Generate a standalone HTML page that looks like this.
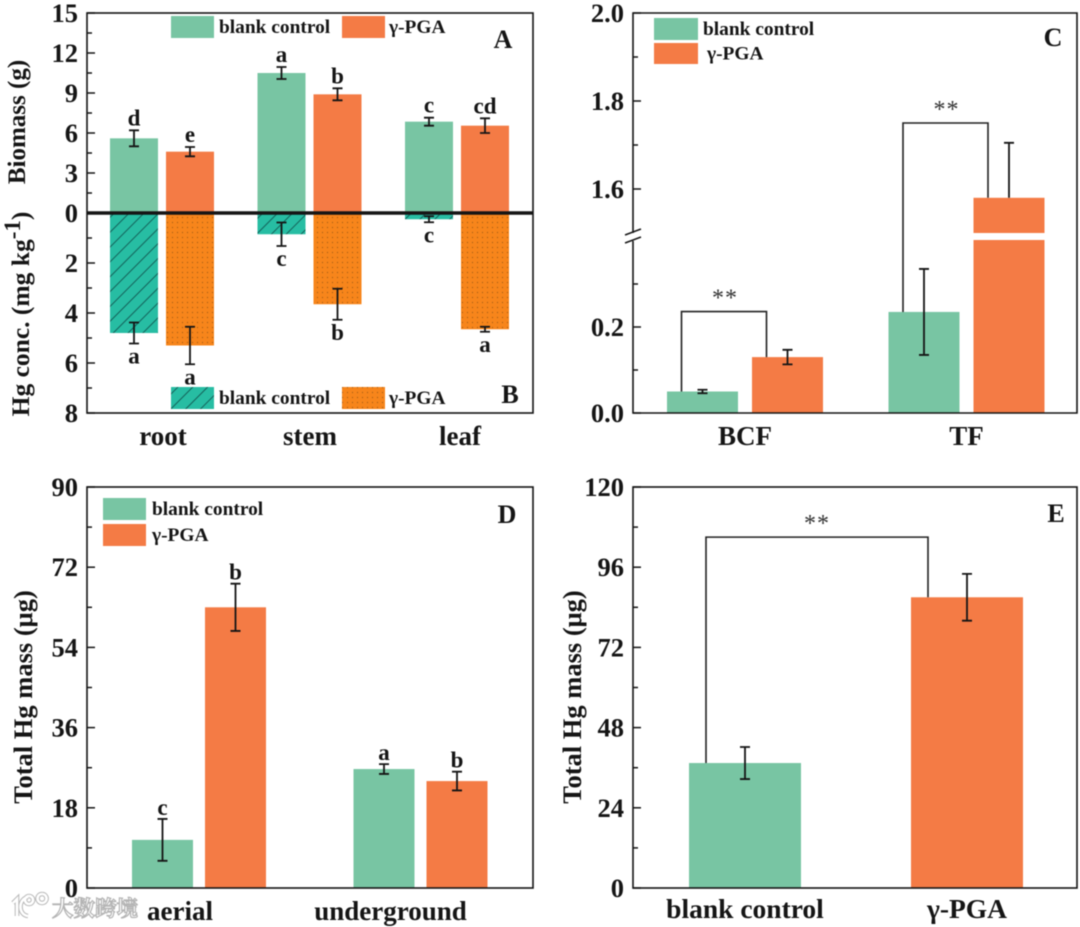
<!DOCTYPE html>
<html lang="en">
<head>
<meta charset="utf-8">
<title>Biomass and Hg charts</title>
<style>
html,body{margin:0;padding:0;background:#fff;width:1080px;height:927px;overflow:hidden}
svg{display:block;filter:blur(0.45px)}
text{font-family:"Liberation Serif","Noto Serif CJK SC",serif;font-weight:bold;fill:#151515}
</style>
</head>
<body>
<svg id="chart" xmlns="http://www.w3.org/2000/svg" width="1080" height="927" viewBox="0 0 1080 927">
<defs>
<pattern id="hatch" patternUnits="userSpaceOnUse" width="10.5" height="10.5" patternTransform="rotate(-45)">
<rect width="10.5" height="10.5" fill="#27bda3"/><rect y="0" width="10.5" height="1" fill="#14625a"/>
</pattern>
<pattern id="dots" patternUnits="userSpaceOnUse" width="5" height="5">
<rect width="5" height="5" fill="#f7851b"/><circle cx="2.5" cy="2.5" r="0.6" fill="#a05a14"/>
</pattern>
</defs>
</svg>
<script>
// ---- chart data ----
const abCategories = ['root', 'stem', 'leaf'];
const biomassBlank = [5.6, 10.5, 6.85];
const biomassBlankErr = [0.6, 0.45, 0.3];
const biomassBlankLetters = ['d', 'a', 'c'];
const biomassPga = [4.6, 8.9, 6.55];
const biomassPgaErr = [0.35, 0.45, 0.55];
const biomassPgaLetters = ['e', 'b', 'cd'];
const hgBlank = [4.8, 0.85, 0.25];
const hgBlankErr = [0.42, 0.47, 0.12];
const hgBlankLetters = ['a', 'c', 'c'];
const hgPga = [5.3, 3.65, 4.65];
const hgPgaErr = [0.75, 0.62, 0.1];
const hgPgaLetters = ['a', 'b', 'a'];
const biomassTicks = ['0', '3', '6', '9', '12', '15'];
const hgTicks = ['2', '4', '6', '8'];

const cCategories = ['BCF', 'TF'];
const factorBlank = [0.05, 0.235];
const factorBlankErr = [0.004, 0.1];
const factorPga = [0.13, 1.58];
const factorPgaErr = [0.017, 0.125];
const factorBracketTop = [0.236, 1.75];
const factorLowerTicks = ['0.0', '0.2'];
const factorUpperTicks = ['1.6', '1.8', '2.0'];

const dCategories = ['aerial', 'underground'];
const massBlank = [10.8, 26.7];
const massBlankErr = [4.7, 1.1];
const massBlankLetters = ['c', 'a'];
const massPga = [63, 24];
const massPgaErr = [5.3, 2.1];
const massPgaLetters = ['b', 'b'];
const massTicks = ['0', '18', '36', '54', '72', '90'];

const eCategories = ['blank control', '\u03B3-PGA'];
const totalValues = [37.4, 87];
const totalErr = [4.8, 7];
const totalBracketTop = 105;
const totalTicks = ['0', '24', '48', '72', '96', '120'];

// ---- colours ----
const GREEN = '#78c5a3', ORANGE = '#f47b45', INK = '#151515';

const svg = document.getElementById('chart');
const NS = 'http://www.w3.org/2000/svg';

function make(tag, props) {
  const el = document.createElementNS(NS, tag);
  for (const k in props) el.setAttribute(k, props[k]);
  svg.appendChild(el);
  return el;
}
function drawText(name, str, x, y, size, anchor, rot) {
  const el = make('text', {x: x, y: y, 'font-size': size, 'text-anchor': anchor || 'middle'});
  
  
  if (rot) el.setAttribute('transform', 'rotate(' + rot + ' ' + x + ' ' + y + ')');
  el.textContent = str;
  return el;
}
function drawLine(name, x1, y1, x2, y2, w) {
  const el = make('line', {x1: x1, y1: y1, x2: x2, y2: y2, stroke: INK, 'stroke-width': w || 1.5});
  
  
  return el;
}
function drawRect(name, x, y, w, h, fill) {
  const el = make('rect', {x: x, y: y, width: w, height: h, fill: fill});
  
  
  return el;
}
function drawBar(name, cx, w, y0, y1, fill) {
  return drawRect(name, cx - w / 2, Math.min(y0, y1), w, Math.abs(y1 - y0), fill);
}
function drawErr(name, cx, yTop, yBottom) {
  const el = make('path', {
    d: 'M' + (cx - 5) + ' ' + yTop + 'H' + (cx + 5) + 'M' + cx + ' ' + yTop + 'V' + yBottom +
       'M' + (cx - 5) + ' ' + yBottom + 'H' + (cx + 5),
    stroke: INK, 'stroke-width': 1.8, fill: 'none'
  });
  
  
  return el;
}
function drawBracket(name, x1, x2, yTop, yLeft, yRight) {
  const el = make('path', {
    d: 'M' + x1 + ' ' + yLeft + 'V' + yTop + 'H' + x2 + 'V' + yRight,
    stroke: '#222', 'stroke-width': 1.6, fill: 'none'
  });
  
  
  return el;
}
function drawLegend(x, y, w, h, fill, label, tx, key) {
  drawRect(key + '-swatch', x, y, w, h, fill);
  drawText(key + '-label', label, tx, y + h / 2 + 6, 19.4, 'start');
}
function drawStars(name, x, y) {
  const el = drawText(name, '**', x, y, 24);
  el.style.fill = '#333';
  el.style.fontWeight = 'normal';
  el.style.letterSpacing = '1px';
}

// ---- Panels A and B ----
const abL = 87, abR = 533, abT = 13, abB = 413, abZero = 213;
const yBio = v => abZero - v * (abZero - abT) / 15;
const yHg = v => abZero + v * (abB - abZero) / 8;
const xAB = (i, s) => 162 + 147.5 * i + (s ? 28 : -28);

abCategories.forEach(function (cat, i) {
  drawBar('biomass-bar-blank-' + cat, xAB(i, 0), 48, yBio(0), yBio(biomassBlank[i]), GREEN);
  drawBar('biomass-bar-pga-' + cat, xAB(i, 1), 48, yBio(0), yBio(biomassPga[i]), ORANGE);
  drawBar('hg-bar-blank-' + cat, xAB(i, 0), 48, yHg(0), yHg(hgBlank[i]), 'url(#hatch)');
  drawBar('hg-bar-pga-' + cat, xAB(i, 1), 48, yHg(0), yHg(hgPga[i]), 'url(#dots)');

  const bt = yBio(biomassBlank[i] + biomassBlankErr[i]);
  const pt = yBio(biomassPga[i] + biomassPgaErr[i]);
  drawErr('biomass-error-blank-' + cat, xAB(i, 0), bt, yBio(biomassBlank[i] - biomassBlankErr[i]));
  drawErr('biomass-error-pga-' + cat, xAB(i, 1), pt, yBio(biomassPga[i] - biomassPgaErr[i]));
  drawText('biomass-letter-blank-' + cat, biomassBlankLetters[i], xAB(i, 0), bt - 5, 23);
  drawText('biomass-letter-pga-' + cat, biomassPgaLetters[i], xAB(i, 1), pt - 5, 23);

  const hb = yHg(hgBlank[i] + hgBlankErr[i]);
  const hp = yHg(hgPga[i] + hgPgaErr[i]);
  drawErr('hg-error-blank-' + cat, xAB(i, 0), yHg(hgBlank[i] - hgBlankErr[i]), hb);
  drawErr('hg-error-pga-' + cat, xAB(i, 1), yHg(hgPga[i] - hgPgaErr[i]), hp);
  drawText('hg-letter-blank-' + cat, hgBlankLetters[i], xAB(i, 0), hb + 20, 23);
  drawText('hg-letter-pga-' + cat, hgPgaLetters[i], xAB(i, 1), hp + 20, 23);
});

biomassTicks.forEach(function (t) {
  const v = Number(t);
  drawLine('biomass-tick-' + t, abL, yBio(v), abL + 8, yBio(v));
  drawText('biomass-tick-label-' + t, t, abL - 9, yBio(v) + 9, 26.5, 'end');
  if (v < 15) drawLine('biomass-minor-tick-' + t, abL, yBio(v + 1.5), abL + 5, yBio(v + 1.5));
});
hgTicks.forEach(function (t) {
  const v = Number(t);
  drawLine('hg-tick-' + t, abL, yHg(v), abL + 8, yHg(v));
  drawText('hg-tick-label-' + t, t, abL - 9, yHg(v) + 9, 26.5, 'end');
  drawLine('hg-minor-tick-' + t, abL, yHg(v - 1), abL + 5, yHg(v - 1));
});
const abBox = make('rect', {x: abL, y: abT, width: abR - abL, height: abB - abT, fill: 'none', stroke: INK, 'stroke-width': 1.6});


drawLine('zero-line', abL, abZero, abR, abZero, 3.4);

['163', '310', '460'].forEach(function (px, i) {
  drawText('category-label-' + abCategories[i], abCategories[i], Number(px), 445, 27);
});
drawText('biomass-axis-title', 'Biomass (g)', 25, 122, 25, 'middle', -90);
const hgTitle = drawText('hg-axis-title', 'Hg conc. (mg kg', 29, 314, 25.5, 'middle', -90);
const hgSup = document.createElementNS(NS, 'tspan');


hgSup.setAttribute('dy', '-9');
hgSup.setAttribute('font-size', '23');
hgSup.textContent = '-1';
hgTitle.appendChild(hgSup);
const hgClose = document.createElementNS(NS, 'tspan');


hgClose.setAttribute('dy', '9');
hgClose.textContent = ')';
hgTitle.appendChild(hgClose);

drawLegend(171, 16, 43, 22, GREEN, 'blank control', 219, 'legend-a-blank');
drawLegend(342, 16, 43, 22, ORANGE, '\u03B3-PGA', 389, 'legend-a-pga');
drawLegend(171, 387, 43, 22, 'url(#hatch)', 'blank control', 219, 'legend-b-blank');
drawLegend(342, 387, 43, 22, 'url(#dots)', '\u03B3-PGA', 389, 'legend-b-pga');
drawText('panel-letter-a', 'A', 503, 48, 26);
drawText('panel-letter-b', 'B', 510, 403, 26);

// ---- Panel C (broken axis) ----
const cL = 633, cR = 1077, cT = 13, cB = 413;
const yC = function (v) {
  if (v <= 0.4) return cB - v * 430;
  if (v >= 1.5) return 189 - (v - 1.6) * 440;
  return 237;
};
const xC = (i, s) => 745 + 221.5 * i + (s ? 42.5 : -42.5);

cCategories.forEach(function (cat, i) {
  drawBar('factor-bar-blank-' + cat, xC(i, 0), 71, cB, yC(factorBlank[i]), GREEN);
  drawBar('factor-bar-pga-' + cat, xC(i, 1), 71, cB, yC(factorPga[i]), ORANGE);
  drawErr('factor-error-blank-' + cat, xC(i, 0), yC(factorBlank[i] + factorBlankErr[i]), yC(factorBlank[i] - factorBlankErr[i]));
  if (factorPga[i] >= 1.5) {
    const topCap = yC(factorPga[i] + factorPgaErr[i]);
    const capLine = make('path', {
      d: 'M' + (xC(i, 1) - 5) + ' ' + topCap + 'H' + (xC(i, 1) + 5) + 'M' + xC(i, 1) + ' ' + topCap + 'V' + yC(factorPga[i]),
      stroke: INK, 'stroke-width': 1.8, fill: 'none'
    });
    
    
    drawRect('factor-bar-break-gap', xC(i, 1) - 37, 233, 74, 7, '#fff');
  } else {
    drawErr('factor-error-pga-' + cat, xC(i, 1), yC(factorPga[i] + factorPgaErr[i]), yC(factorPga[i] - factorPgaErr[i]));
  }
  const bx1 = xC(i, 0) - 21, bx2 = xC(i, 1) - 21;
  const bTop = yC(factorBracketTop[i]);
  drawBracket('significance-bracket-' + cat, bx1, bx2, bTop, yC(factorBlank[i]), yC(factorPga[i]));
  drawStars('significance-stars-' + cat, (bx1 + bx2) / 2 + 1, bTop - 6);
});

factorLowerTicks.forEach(function (t) {
  const v = Number(t);
  drawLine('factor-tick-' + t, cL, yC(v), cL + 8, yC(v));
  drawText('factor-tick-label-' + t, t, cL - 9, yC(v) + 9, 26.5, 'end');
  drawLine('factor-minor-tick-' + t, cL, yC(v + 0.1), cL + 5, yC(v + 0.1));
});
factorUpperTicks.forEach(function (t) {
  const v = Number(t);
  drawLine('factor-tick-' + t, cL, yC(v), cL + 8, yC(v));
  drawText('factor-tick-label-' + t, t, cL - 9, yC(v) + 9, 26.5, 'end');
  if (v < 2) drawLine('factor-minor-tick-' + t, cL, yC(v + 0.1), cL + 5, yC(v + 0.1));
});
const cFrame = make('path', {
  d: 'M' + cL + ' 233V' + cT + 'H' + cR + 'V' + cB + 'H' + cL + 'V241',
  fill: 'none', stroke: INK, 'stroke-width': 1.6
});


drawLine('axis-break-mark-upper', cL - 8, 235, cL + 8, 229, 1.5);
drawLine('axis-break-mark-lower', cL - 8, 243, cL + 8, 237, 1.5);

cCategories.forEach(function (cat, i) {
  drawText('category-label-' + cat, cat, 745 + 221.5 * i, 445, 27);
});
drawLegend(654, 18, 44, 22, GREEN, 'blank control', 703, 'legend-c-blank');
drawLegend(654, 43, 44, 21, ORANGE, '\u03B3-PGA', 707, 'legend-c-pga');
drawText('panel-letter-c', 'C', 1053, 46, 26);

// ---- Panel D ----
const dL = 87, dR = 533, dT = 487, dB = 888;
const yD = v => dB - v * (dB - dT) / 90;
const xD = (i, s) => 199 + 221.5 * i + (s ? 36.5 : -36.5);

dCategories.forEach(function (cat, i) {
  drawBar('mass-bar-blank-' + cat, xD(i, 0), 61, dB, yD(massBlank[i]), GREEN);
  drawBar('mass-bar-pga-' + cat, xD(i, 1), 61, dB, yD(massPga[i]), ORANGE);
  const bt = yD(massBlank[i] + massBlankErr[i]);
  const pt = yD(massPga[i] + massPgaErr[i]);
  drawErr('mass-error-blank-' + cat, xD(i, 0), bt, yD(massBlank[i] - massBlankErr[i]));
  drawErr('mass-error-pga-' + cat, xD(i, 1), pt, yD(massPga[i] - massPgaErr[i]));
  drawText('mass-letter-blank-' + cat, massBlankLetters[i], xD(i, 0), bt - 4, 23);
  drawText('mass-letter-pga-' + cat, massPgaLetters[i], xD(i, 1), pt - 4, 23);
});
massTicks.forEach(function (t) {
  const v = Number(t);
  drawLine('mass-tick-' + t, dL, yD(v), dL + 8, yD(v));
  drawText('mass-tick-label-' + t, t, dL - 9, yD(v) + 9, 26.5, 'end');
  if (v < 90) drawLine('mass-minor-tick-' + t, dL, yD(v + 9), dL + 5, yD(v + 9));
});
const dBox = make('rect', {x: dL, y: dT, width: dR - dL, height: dB - dT, fill: 'none', stroke: INK, 'stroke-width': 1.6});


drawText('category-label-aerial', dCategories[0], 180, 920, 27);
drawText('category-label-underground', dCategories[1], 390.5, 920, 27);
drawText('mass-axis-title', 'Total Hg mass (\u03BCg)', 32, 697, 26.5, 'middle', -90);
drawLegend(103, 498, 43, 22, GREEN, 'blank control', 152, 'legend-d-blank');
drawLegend(103, 524, 43, 22, ORANGE, '\u03B3-PGA', 152, 'legend-d-pga');
drawText('panel-letter-d', 'D', 507, 523, 26);

// ---- Panel E ----
const eL = 633, eR = 1077, eT = 487, eB = 888;
const yE = v => eB - v * (eB - eT) / 120;
const xE = i => 745 + 222 * i;

eCategories.forEach(function (cat, i) {
  drawBar('total-bar-' + i, xE(i), 112, eB, yE(totalValues[i]), i ? ORANGE : GREEN);
  drawErr('total-error-' + i, xE(i), yE(totalValues[i] + totalErr[i]), yE(totalValues[i] - totalErr[i]));
  drawText('category-label-total-' + i, cat, xE(i), 918, 27.5);
});
drawBracket('significance-bracket-total', xE(0) - 39, xE(1) - 39, yE(totalBracketTop), yE(totalValues[0]), yE(totalValues[1]));
drawStars('significance-stars-total', (xE(0) + xE(1)) / 2 - 39, yE(totalBracketTop) - 6);
totalTicks.forEach(function (t) {
  const v = Number(t);
  drawLine('total-tick-' + t, eL, yE(v), eL + 8, yE(v));
  drawText('total-tick-label-' + t, t, eL - 9, yE(v) + 9, 26.5, 'end');
  if (v < 120) drawLine('total-minor-tick-' + t, eL, yE(v + 12), eL + 5, yE(v + 12));
});
const eBox = make('rect', {x: eL, y: eT, width: eR - eL, height: eB - eT, fill: 'none', stroke: INK, 'stroke-width': 1.6});


drawText('total-axis-title', 'Total Hg mass (\u03BCg)', 581, 697, 26.5, 'middle', -90);
drawText('panel-letter-e', 'E', 1056, 522, 26);

// ---- Watermark ----
const wm = drawText('watermark-text', '\u5927\u6570\u8DE8\u5883', 52, 916, 21.5, 'start');
wm.style.fill = '#ffffff';
wm.style.stroke = '#b4b4b4';
wm.style.strokeWidth = '1.2';
const wmLogoHalo = make('path', {
  d: 'M13 903L17 899V916M28 897C18 899 18 915 28 916M29 896a4 4 0 1 0 .1 0M42 894a4.5 4.5 0 1 0 .1 0',
  fill: 'none', stroke: '#b8b8b8', 'stroke-width': 4.6
});


const wmLogo = make('path', {
  d: 'M13 903L17 899V916M28 897C18 899 18 915 28 916M29 896a4 4 0 1 0 .1 0M42 894a4.5 4.5 0 1 0 .1 0',
  fill: 'none', stroke: '#ffffff', 'stroke-width': 2.6
});


</script>
</body>
</html>
